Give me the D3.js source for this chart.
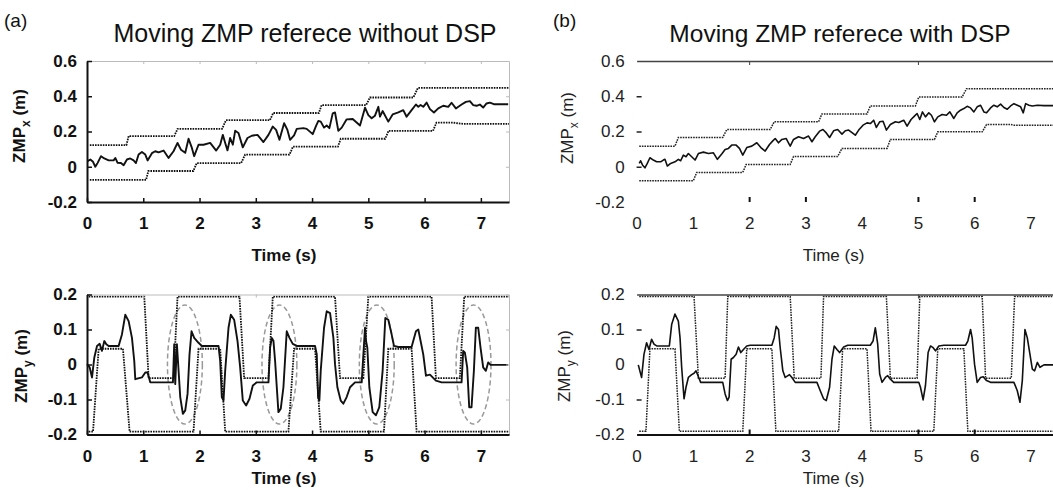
<html>
<head>
<style>
  body { margin: 0; background: #fff; }
  text { font-family: "Liberation Sans", Arial, sans-serif; }
</style>
</head>
<body>
<script src="https://cdnjs.cloudflare.com/ajax/libs/d3/7.8.5/d3.min.js"></script>
<script>
// ---- data (time in s, ZMP in m) ----
const timeTicks = [0, 1, 2, 3, 4, 5, 6, 7]
const zmpxTicks = [-0.2, 0, 0.2, 0.4, 0.6]
const zmpyTicks = [-0.2, -0.1, 0, 0.1, 0.2]

// (a) without DSP, ZMP x
const aZmpX = [[0.012,0.032],[0.059,0.041],[0.107,0.028],[0.148,0],[0.189,0.022],[0.249,0.060],[0.308,0.047],[0.385,0.036],[0.473,0.036],[0.503,0.050],[0.544,0.022],[0.604,0.021],[0.651,0.009],[0.710,0.041],[0.769,0.047],[0.828,0.036],[0.870,0.021],[0.917,0.069],[0.976,0.084],[1.036,0.069],[1.077,0.036],[1.154,0.077],[1.213,0.088],[1.272,0.082],[1.361,0.092],[1.450,0.050],[1.538,0.088],[1.609,0.135],[1.669,0.097],[1.746,0.079],[1.805,0.159],[1.864,0.107],[1.905,0.060],[1.982,0.125],[2.071,0.125],[2.189,0.135],[2.296,0.092],[2.367,0.125],[2.414,0.181],[2.456,0.135],[2.497,0.093],[2.544,0.163],[2.592,0.125],[2.633,0.204],[2.692,0.191],[2.769,0.110],[2.852,0.163],[2.929,0.176],[3.030,0.181],[3.136,0.140],[3.225,0.181],[3.302,0.228],[3.361,0.209],[3.420,0.153],[3.503,0.247],[3.562,0.209],[3.609,0.153],[3.680,0.178],[3.728,0.215],[3.846,0.219],[3.905,0.215],[4.012,0.185],[4.071,0.232],[4.112,0.260],[4.154,0.256],[4.213,0.222],[4.260,0.234],[4.308,0.219],[4.367,0.303],[4.408,0.308],[4.467,0.204],[4.527,0.222],[4.615,0.269],[4.722,0.271],[4.852,0.234],[4.941,0.335],[5.000,0.293],[5.059,0.275],[5.118,0.290],[5.178,0.340],[5.207,0.284],[5.254,0.316],[5.355,0.256],[5.432,0.297],[5.533,0.308],[5.621,0.321],[5.680,0.284],[5.769,0.321],[5.846,0.353],[5.888,0.340],[5.929,0.350],[5.976,0.340],[6.036,0.364],[6.095,0.327],[6.166,0.308],[6.243,0.331],[6.331,0.346],[6.420,0.340],[6.479,0.363],[6.556,0.331],[6.657,0.353],[6.734,0.368],[6.805,0.372],[6.864,0.350],[6.923,0.346],[6.982,0.353],[7.041,0.336],[7.101,0.359],[7.160,0.364],[7.231,0.355],[7.337,0.355],[7.485,0.355]]
const aUpperX = [[0.05,0.123],[0.70,0.123],[0.74,0.174],[1.55,0.174],[1.61,0.215],[2.40,0.215],[2.47,0.264],[3.25,0.264],[3.31,0.305],[4.12,0.305],[4.17,0.350],[4.96,0.350],[5.03,0.393],[5.80,0.393],[5.88,0.447],[7.5,0.447]]
const aLowerX = [[0.05,-0.075],[1.05,-0.075],[1.09,-0.024],[1.89,-0.024],[1.95,0.021],[2.74,0.021],[2.81,0.069],[3.60,0.069],[3.66,0.114],[4.46,0.114],[4.51,0.159],[5.30,0.159],[5.36,0.204],[6.15,0.204],[6.21,0.250],[6.51,0.250],[6.69,0.243],[7.5,0.243]]

// (a) without DSP, ZMP y
const aZmpY = [[0.000,0.001],[0.047,-0.008],[0.089,-0.037],[0.130,0.020],[0.178,0.053],[0.225,0.059],[0.266,0.039],[0.308,0.067],[0.343,0.058],[0.385,0.053],[0.562,0.053],[0.621,0.086],[0.680,0.142],[0.740,0.124],[0.799,0.076],[0.840,0.010],[0.858,-0.042],[0.976,-0.037],[1.036,-0.023],[1.077,-0.023],[1.124,-0.051],[1.527,-0.051],[1.550,0.058],[1.568,-0.056],[1.598,0.058],[1.657,-0.093],[1.704,-0.141],[1.746,-0.131],[1.787,-0.084],[1.822,0.029],[1.858,0.095],[1.905,0.076],[1.982,0.062],[2.041,0.053],[2.337,0.053],[2.367,0.010],[2.396,-0.093],[2.426,-0.103],[2.456,-0.018],[2.515,0.105],[2.556,0.142],[2.615,0.128],[2.675,0.067],[2.722,-0.008],[2.769,-0.103],[2.828,-0.117],[2.888,-0.098],[2.947,-0.060],[3.018,-0.051],[3.225,-0.051],[3.254,0.048],[3.284,0.076],[3.314,0.067],[3.343,0.010],[3.373,-0.065],[3.402,-0.136],[3.444,-0.126],[3.491,-0.065],[3.550,0.095],[3.598,0.076],[3.657,0.059],[3.728,0.053],[4.053,0.053],[4.083,0.029],[4.107,-0.093],[4.130,-0.103],[4.154,-0.018],[4.213,0.105],[4.260,0.152],[4.320,0.147],[4.379,0.076],[4.408,0.001],[4.450,-0.065],[4.509,-0.103],[4.556,-0.112],[4.615,-0.093],[4.675,-0.065],[4.763,-0.051],[4.882,-0.051],[4.941,0.105],[4.959,0.067],[4.982,0.048],[5.018,-0.065],[5.077,-0.136],[5.136,-0.145],[5.195,-0.122],[5.254,-0.018],[5.302,0.133],[5.355,0.128],[5.414,0.086],[5.456,0.053],[5.533,0.050],[5.769,0.050],[5.846,0.095],[5.888,0.100],[5.929,0.067],[5.976,0.029],[6.024,-0.032],[6.095,-0.029],[6.201,-0.046],[6.302,-0.051],[6.657,-0.051],[6.686,0.039],[6.716,0.034],[6.757,-0.008],[6.793,-0.122],[6.834,-0.122],[6.876,-0.018],[6.911,0.105],[6.953,0.105],[6.994,0.048],[7.041,-0.008],[7.089,-0.018],[7.130,0.006],[7.172,-0.001],[7.485,-0.001]]
const aUpperY = [[0.03,0.194],[1.018,0.194],[1.095,-0.039],[1.538,-0.039],[1.609,0.194],[2.710,0.194],[2.793,-0.039],[3.225,-0.039],[3.302,0.194],[4.408,0.194],[4.497,-0.039],[4.911,-0.039],[5.000,0.194],[6.124,0.194],[6.201,-0.039],[6.627,-0.039],[6.704,0.194],[7.5,0.194]]
const aLowerY = [[0.03,-0.192],[0.107,-0.192],[0.207,0.045],[0.639,0.045],[0.757,-0.192],[1.893,-0.192],[1.982,0.045],[2.367,0.045],[2.456,-0.192],[3.580,-0.192],[3.680,0.045],[4.053,0.045],[4.154,-0.192],[5.278,-0.192],[5.355,0.045],[5.769,0.045],[5.858,-0.192],[7.5,-0.192]]
// circled oscillations in (a): centre times, half width (s), half height (m)
const circledTimes = [1.74, 3.42, 5.15, 6.87]
const circleHalfT = 0.31
const circleHalfV = 0.17

// (b) with DSP, ZMP x
const bZmpX = [[0.047,0.019],[0.071,0.034],[0.107,0.009],[0.148,-0.006],[0.190,0.019],[0.237,0.051],[0.297,0.038],[0.356,0.028],[0.427,0.028],[0.475,0.038],[0.504,0.042],[0.546,0.004],[0.605,0.019],[0.682,0.028],[0.742,0.042],[0.783,0.034],[0.831,0.066],[0.878,0.057],[0.920,0.075],[0.979,0.057],[1.039,0.038],[1.098,0.075],[1.187,0.083],[1.276,0.075],[1.365,0.079],[1.436,0.042],[1.513,0.072],[1.573,0.098],[1.632,0.104],[1.691,0.123],[1.769,0.123],[1.828,0.104],[1.887,0.066],[1.958,0.109],[2.047,0.117],[2.136,0.136],[2.208,0.109],[2.285,0.089],[2.362,0.126],[2.421,0.147],[2.463,0.160],[2.522,0.136],[2.582,0.155],[2.659,0.160],[2.730,0.117],[2.789,0.155],[2.878,0.170],[2.967,0.160],[3.056,0.174],[3.116,0.142],[3.175,0.170],[3.252,0.202],[3.312,0.211],[3.371,0.192],[3.430,0.166],[3.501,0.204],[3.573,0.211],[3.650,0.185],[3.709,0.204],[3.769,0.208],[3.846,0.189],[3.887,0.179],[3.947,0.208],[4.024,0.236],[4.095,0.249],[4.154,0.245],[4.214,0.264],[4.261,0.223],[4.320,0.255],[4.380,0.258],[4.439,0.208],[4.510,0.240],[4.599,0.255],[4.659,0.251],[4.748,0.264],[4.807,0.230],[4.878,0.268],[4.938,0.287],[4.985,0.302],[5.033,0.268],[5.080,0.311],[5.134,0.283],[5.193,0.306],[5.240,0.292],[5.294,0.255],[5.353,0.283],[5.430,0.296],[5.507,0.292],[5.567,0.311],[5.638,0.274],[5.697,0.306],[5.757,0.321],[5.816,0.330],[5.875,0.343],[5.935,0.334],[5.994,0.311],[6.053,0.340],[6.113,0.349],[6.172,0.311],[6.220,0.306],[6.291,0.334],[6.350,0.349],[6.409,0.340],[6.469,0.355],[6.528,0.336],[6.588,0.326],[6.647,0.345],[6.706,0.358],[6.766,0.349],[6.825,0.340],[6.872,0.306],[6.914,0.358],[6.973,0.349],[7.033,0.345],[7.122,0.349],[7.240,0.347],[7.5,0.347]]
const bUpperX = [[0.047,0.117],[0.682,0.117],[0.742,0.166],[1.531,0.166],[1.602,0.211],[2.374,0.211],[2.445,0.255],[3.234,0.255],[3.294,0.300],[4.095,0.300],[4.154,0.345],[4.955,0.345],[5.015,0.396],[5.786,0.396],[5.864,0.443],[7.5,0.443]]
const bLowerX = [[0.047,-0.079],[1.009,-0.079],[1.068,-0.032],[1.887,-0.032],[1.947,0.013],[2.730,0.013],[2.789,0.058],[3.573,0.058],[3.650,0.104],[4.451,0.104],[4.510,0.155],[5.294,0.155],[5.353,0.198],[6.142,0.198],[6.220,0.240],[6.647,0.240],[6.706,0.236],[7.5,0.236]]

// (b) with DSP, ZMP y
const bZmpY = [[0.030,-0.001],[0.089,-0.037],[0.131,0.029],[0.178,0.062],[0.220,0.043],[0.267,0.072],[0.309,0.058],[0.356,0.053],[0.582,0.053],[0.623,0.114],[0.682,0.144],[0.742,0.124],[0.772,0.076],[0.801,-0.008],[0.843,-0.098],[0.878,-0.065],[0.920,-0.037],[0.979,-0.029],[1.021,-0.025],[1.056,-0.018],[1.098,-0.035],[1.139,-0.051],[1.531,-0.051],[1.573,-0.084],[1.614,-0.103],[1.644,-0.093],[1.680,0.015],[1.721,0.020],[1.769,0.029],[1.810,0.050],[1.852,0.034],[1.899,0.043],[1.958,0.053],[2.018,0.055],[2.404,0.055],[2.445,0.076],[2.481,0.109],[2.522,0.100],[2.552,0.048],[2.599,-0.018],[2.641,-0.037],[2.718,-0.029],[2.760,-0.037],[2.819,-0.051],[3.205,-0.051],[3.264,-0.075],[3.323,-0.098],[3.371,-0.103],[3.430,-0.065],[3.472,0.015],[3.513,0.053],[3.561,0.043],[3.608,0.034],[3.680,0.050],[3.751,0.055],[4.154,0.055],[4.202,0.067],[4.243,0.105],[4.285,0.058],[4.320,-0.027],[4.362,-0.051],[4.421,-0.037],[4.463,-0.032],[4.510,-0.042],[4.570,-0.051],[5.015,-0.051],[5.045,-0.065],[5.092,-0.101],[5.134,-0.060],[5.181,0.034],[5.223,0.053],[5.270,0.048],[5.312,0.039],[5.371,0.053],[5.460,0.055],[5.846,0.055],[5.887,0.067],[5.935,0.100],[5.964,0.076],[6.006,0.001],[6.053,-0.051],[6.113,-0.037],[6.160,-0.035],[6.220,-0.046],[6.291,-0.051],[6.706,-0.051],[6.766,-0.075],[6.813,-0.108],[6.855,-0.046],[6.902,0.100],[6.944,0.076],[6.991,0.029],[7.033,-0.013],[7.074,-0.018],[7.122,0.006],[7.169,-0.008],[7.240,-0.001],[7.5,-0.001]]
const bUpperY = [[0.047,0.194],[1.021,0.194],[1.098,-0.039],[1.573,-0.039],[1.620,0.194],[2.730,0.194],[2.801,-0.039],[3.276,-0.039],[3.323,0.194],[4.439,0.194],[4.510,-0.039],[4.985,-0.039],[5.033,0.194],[6.142,0.194],[6.202,-0.039],[6.659,-0.039],[6.718,0.194],[7.5,0.194]]
const bLowerY = [[0.047,-0.191],[0.166,-0.191],[0.237,0.045],[0.682,0.045],[0.760,-0.191],[1.887,-0.191],[1.958,0.045],[2.404,0.045],[2.475,-0.191],[3.591,-0.191],[3.662,0.045],[4.095,0.045],[4.166,-0.191],[5.282,-0.191],[5.353,0.045],[5.816,0.045],[5.887,-0.191],[7.5,-0.191]]

// ---- drawing ----
const W = 1053, H = 490
const plotW = 422
const svg = d3.select("body").append("svg").attr("width", W).attr("height", H)

// y scales shared by both panels
const yTop = d3.scaleLinear().domain([-0.2, 0.6]).range([202, 61])
const yBot = d3.scaleLinear().domain([-0.2, 0.2]).range([434.5, 294.5])
const xA = d3.scaleLinear().domain([0, 7.5]).range([87, 87 + plotW])
const xB = d3.scaleLinear().domain([0, 7.5]).range([636.6, 636.6 + plotW])

const fmt = d => String(d)

function drawSeries(x, y, upper, lower, solid, sw, col) {
    let line = d3.line().x(d => x(d[0])).y(d => y(d[1]))
    // dotted bounds of the ZMP reference
    ;[upper, lower].forEach(s => {
        svg.append("path").attr("d", line(s))
            .attr("fill", "none").attr("stroke", col)
            .attr("stroke-width", sw).attr("stroke-dasharray", "1.6,1")
    })
    svg.append("path").attr("d", line(solid))
        .attr("fill", "none").attr("stroke", "#111")
        .attr("stroke-width", sw + 0.1).attr("stroke-linejoin", "round")
}

function styleAxis(g, size, weight, color) {
    g.attr("font-size", size).attr("font-family", '"Liberation Sans", Arial, sans-serif')
        .attr("font-weight", weight).attr("color", color)
}

function yLabel(x, yc, sub, weight, color) {
    let t = svg.append("text")
        .attr("transform", `translate(${x},${yc}) rotate(-90)`)
        .attr("text-anchor", "middle").attr("font-size", 17)
        .attr("font-weight", weight).attr("fill", color)
    t.append("tspan").text("ZMP")
    t.append("tspan").attr("dy", 5).attr("font-size", 12).text(sub)
    t.append("tspan").attr("dy", -5).text(" (m)")
}

function xLabel(x, yb, weight, color) {
    svg.append("text").attr("x", x(3.5)).attr("y", yb)
        .attr("text-anchor", "middle").attr("font-size", 17)
        .attr("font-weight", weight).attr("fill", color).text("Time (s)")
}

// ----- panel (a): full box, left/bottom dark, top/right light -----
function boxA(y, ticks) {
    let [x0, x1] = xA.range()
    let [yb, yt] = y.range()
    let light = svg.append("g")
    light.append("g").attr("transform", `translate(0,${yt})`)
        .call(d3.axisTop(xA).tickValues(timeTicks).tickSize(-3).tickSizeOuter(0).tickFormat(""))
    light.append("g").attr("transform", `translate(${x1},0)`)
        .call(d3.axisRight(y).tickValues(ticks).tickSize(-3).tickSizeOuter(0).tickFormat(""))
    light.attr("color", "#bbb")

    let left = svg.append("g").attr("transform", `translate(${x0},0)`)
        .call(d3.axisLeft(y).tickValues(ticks).tickSize(-5).tickSizeOuter(0).tickPadding(10).tickFormat(fmt))
    let bottom = svg.append("g").attr("transform", `translate(0,${yb})`)
        .call(d3.axisBottom(xA).tickValues(timeTicks).tickSize(-4).tickSizeOuter(0).tickPadding(15).tickFormat(fmt))
    ;[left, bottom].forEach(g => {
        styleAxis(g, 17, "bold", "#111")
        g.select(".domain").attr("stroke-width", 2)
        g.selectAll(".tick line").attr("stroke-width", 1.5)
    })
}

drawSeries(xA, yTop, aUpperX, aLowerX, aZmpX, 1.8, "#111")
boxA(yTop, zmpxTicks)

svg.append("g").selectAll("ellipse").data(circledTimes).join("ellipse")
    .attr("cx", d => xA(d)).attr("cy", yBot(0))
    .attr("rx", xA(circleHalfT) - xA(0)).attr("ry", yBot(0) - yBot(circleHalfV))
    .attr("fill", "none").attr("stroke", "#999").attr("stroke-width", 1.5)
    .attr("stroke-dasharray", "5,3")
drawSeries(xA, yBot, aUpperY, aLowerY, aZmpY, 1.8, "#111")
boxA(yBot, zmpyTicks)

yLabel(25, 126, "x", "bold", "#111")
yLabel(27, 366, "y", "bold", "#111")
xLabel(xA, 261, "bold", "#111")
xLabel(xA, 484, "bold", "#111")

svg.append("text").attr("x", 305).attr("y", 42).attr("text-anchor", "middle")
    .attr("font-size", 25).attr("fill", "#111").text("Moving ZMP referece without DSP")
svg.append("text").attr("x", 4).attr("y", 27).attr("font-size", 19).attr("fill", "#111").text("(a)")

// ----- panel (b): only partial axes survive in the figure -----
function boxB(y, ticks, dashTicks, topTicks, botTicks, botLine) {
    let x0 = xB.range()[0]
    let [yb, yt] = y.range()
    let labels = svg.append("g").attr("transform", `translate(${x0},0)`)
        .call(d3.axisLeft(y).tickValues(ticks).tickSize(0).tickPadding(12).tickFormat(fmt))
    labels.select(".domain").remove()
    styleAxis(labels, 17, "normal", "#222")

    let dashes = svg.append("g").attr("transform", `translate(${x0},0)`)
        .call(d3.axisLeft(y).tickValues(dashTicks).tickSize(-5).tickFormat(""))
    dashes.select(".domain").remove()
    dashes.attr("color", "#222").selectAll("line").attr("stroke-width", 1.5)

    let top = svg.append("g").attr("transform", `translate(0,${yt})`)
        .call(d3.axisTop(xB).tickValues(topTicks).tickSize(-4).tickSizeOuter(0).tickFormat(""))
    top.attr("color", "#444").select(".domain").attr("stroke-width", 1.5)

    let bl = svg.append("g").attr("transform", `translate(0,${yb})`)
        .call(d3.axisBottom(xB).tickValues(timeTicks).tickSize(0).tickPadding(15).tickFormat(fmt))
    bl.select(".domain").remove()
    styleAxis(bl, 17, "normal", "#222")

    let bt = svg.append("g").attr("transform", `translate(0,${yb})`)
        .call(d3.axisBottom(xB).tickValues(botTicks).tickSize(-5).tickSizeOuter(0).tickFormat(""))
    bt.attr("color", "#111").selectAll("line").attr("stroke-width", 2)
    if (botLine) bt.select(".domain").attr("stroke-width", 1.8)
    else bt.select(".domain").remove()
}

drawSeries(xB, yTop, bUpperX, bLowerX, bZmpX, 1.5, "#222")
boxB(yTop, zmpxTicks, [0, 0.2, 0.4], [2, 5], [2, 3, 5, 6], false)
drawSeries(xB, yBot, bUpperY, bLowerY, bZmpY, 1.5, "#222")
boxB(yBot, zmpyTicks, [-0.1, 0.1], [2, 5], [2, 5, 6], true)

yLabel(573, 128, "x", "normal", "#222")
yLabel(570, 366, "y", "normal", "#222")
xLabel(xB, 261, "normal", "#222")
xLabel(xB, 484, "normal", "#222")

svg.append("text").attr("x", 840).attr("y", 42).attr("text-anchor", "middle")
    .attr("font-size", 24.5).attr("fill", "#111").text("Moving ZMP referece with DSP")
svg.append("text").attr("x", 553).attr("y", 27).attr("font-size", 19).attr("fill", "#111").text("(b)")
</script>
</body>
</html>
